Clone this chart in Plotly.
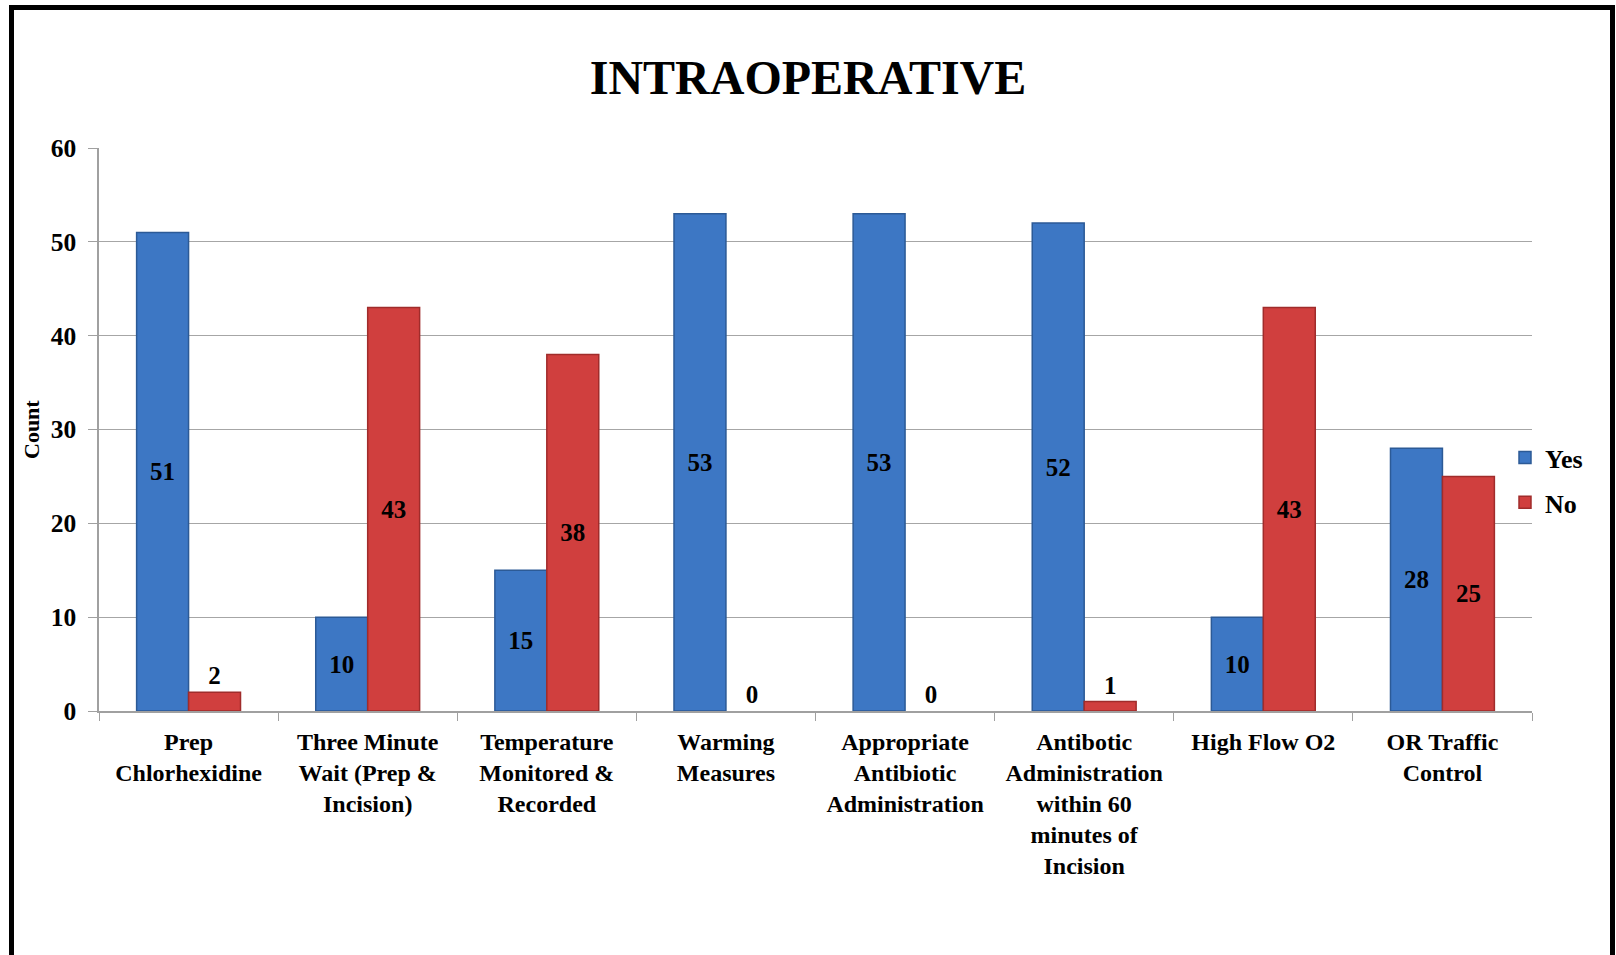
import plotly.graph_objects as go

# Intraoperative checklist compliance counts
categories = [
    "Prep Chlorhexidine",
    "Three Minute Wait (Prep & Incision)",
    "Temperature Monitored & Recorded",
    "Warming Measures",
    "Appropriate Antibiotic Administration",
    "Antibotic Administration within 60 minutes of Incision",
    "High Flow O2",
    "OR Traffic Control",
]
tick_labels = [
    "Prep<br>Chlorhexidine",
    "Three Minute<br>Wait (Prep &<br>Incision)",
    "Temperature<br>Monitored &<br>Recorded",
    "Warming<br>Measures",
    "Appropriate<br>Antibiotic<br>Administration",
    "Antibotic<br>Administration<br>within 60<br>minutes of<br>Incision",
    "High Flow O2",
    "OR Traffic<br>Control",
]
yes_counts = [51, 10, 15, 53, 53, 52, 10, 28]
no_counts = [2, 43, 38, 0, 0, 1, 43, 25]
y_ticks = [0, 10, 20, 30, 40, 50, 60]

SERIF = "Liberation Serif, Times New Roman, serif"
W, H = 1616, 955
M_L, M_R, M_T, M_B = 99, 84, 148, 244
PW, PH = W - M_L - M_R, H - M_T - M_B


def label_pos(vals):
    # small bars get their label above the bar, others centred inside
    return ["outside" if v < 5 else "inside" for v in vals]


def outline_width(vals):
    # no outline on empty bars
    return [1.5 if v > 0 else 0 for v in vals]


fig = go.Figure()
fig.add_trace(go.Bar(
    name="Yes", x=categories, y=yes_counts, legendgroup="yes",
    marker=dict(color="#3d77c4",
                line=dict(color="#2c5a96", width=outline_width(yes_counts))),
    text=[str(v) for v in yes_counts], textposition=label_pos(yes_counts),
    insidetextanchor="middle", textangle=0,
    textfont=dict(family=SERIF, size=25, color="black", weight="bold"),
    cliponaxis=False,
))
fig.add_trace(go.Bar(
    name="No", x=categories, y=no_counts, legendgroup="no",
    marker=dict(color="#d03f3e",
                line=dict(color="#a02c2b", width=outline_width(no_counts))),
    text=[str(v) for v in no_counts], textposition=label_pos(no_counts),
    insidetextanchor="middle", textangle=0,
    textfont=dict(family=SERIF, size=25, color="black", weight="bold"),
    cliponaxis=False,
))

# outer frame around the chart
fig.add_shape(
    type="rect", xref="paper", yref="paper",
    x0=(11.5 - M_L) / PW, x1=(1612.5 - M_L) / PW,
    y0=(M_T + PH - 980) / PH, y1=(M_T + PH - 7.5) / PH,
    line=dict(color="black", width=5), fillcolor="rgba(0,0,0,0)", layer="above",
)

# y-axis title
fig.add_annotation(
    text="Count", textangle=-90, xref="paper", yref="paper",
    x=(31 - M_L) / PW, y=(M_T + PH - 430) / PH,
    xanchor="center", yanchor="middle", showarrow=False,
    font=dict(family=SERIF, size=22, color="black", weight="bold"),
)

fig.update_layout(
    width=W, height=H,
    margin=dict(l=M_L, r=M_R, t=M_T, b=M_B, autoexpand=False),
    paper_bgcolor="white", plot_bgcolor="white",
    barmode="group", bargap=0.42, bargroupgap=0.0,
    title=dict(
        text="INTRAOPERATIVE", x=0.5, xref="container", xanchor="center",
        y=(H - 77) / H, yanchor="middle",
        font=dict(family=SERIF, size=48, color="black", weight="bold"),
    ),
    font=dict(family=SERIF, color="black"),
    legend=dict(
        x=(1505 - M_L) / PW, xanchor="left", y=0.41, yanchor="middle",
        font=dict(family=SERIF, size=26, color="black", weight="bold"),
        bgcolor="rgba(0,0,0,0)", itemwidth=30, tracegroupgap=8,
    ),
    showlegend=True,
)
fig.update_xaxes(
    type="category", tickmode="array", tickvals=categories, ticktext=tick_labels,
    tickson="boundaries", ticks="outside", ticklen=8, tickcolor="#a0a0a0",
    showline=True, linecolor="#a0a0a0", linewidth=1.5, showgrid=False,
    tickfont=dict(family=SERIF, size=24, color="black", weight="bold"),
    tickangle=0, ticklabelstandoff=8,
)
fig.update_yaxes(
    range=[0, 60], tickmode="array", tickvals=y_ticks,
    ticks="outside", ticklen=9, tickcolor="#a0a0a0",
    showline=True, linecolor="#a0a0a0", linewidth=1.5,
    showgrid=True, gridcolor="#a6a6a6", gridwidth=1.2, zeroline=False,
    tickfont=dict(family=SERIF, size=25.5, color="black", weight="bold"),
    ticklabelstandoff=7,
)

fig.write_html("out.html")
